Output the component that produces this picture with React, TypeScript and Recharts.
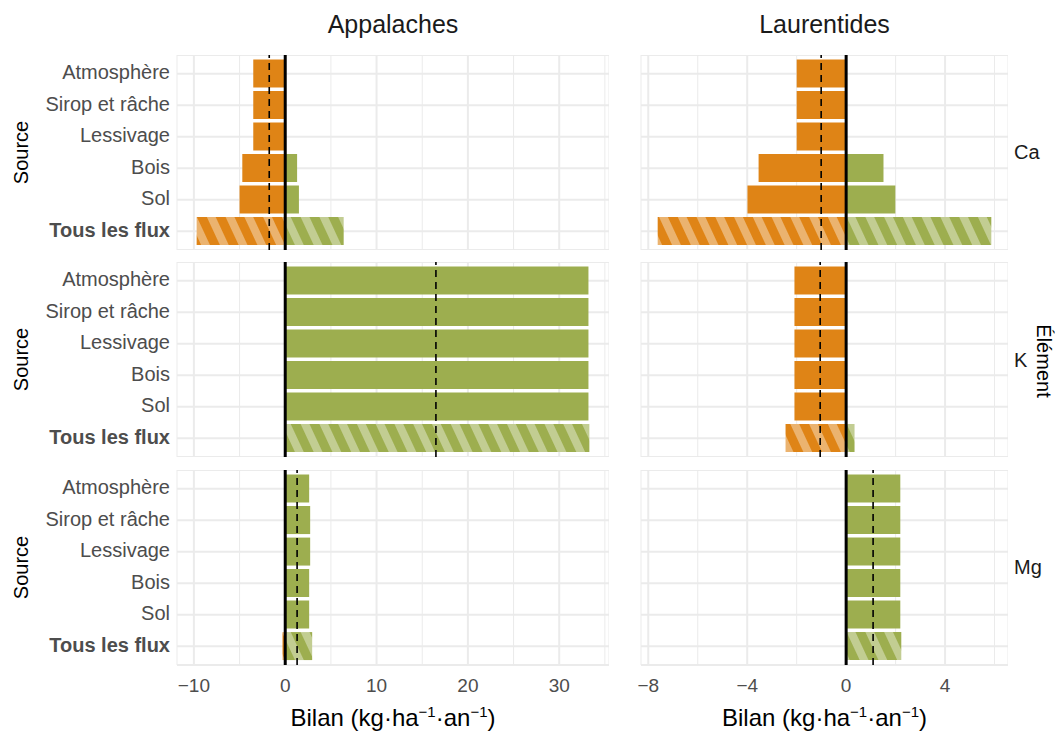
import React from 'react';
import { BarChart, Bar, XAxis, YAxis, CartesianGrid, ReferenceLine, Cell } from 'recharts';

const SOURCES = ['Atmosphère', 'Sirop et râche', 'Lessivage', 'Bois', 'Sol', 'Tous les flux'];
const REGIONS = ['Appalaches', 'Laurentides'];
const ELEMENTS = ['Ca', 'K', 'Mg'];

// Appalaches - pertes (neg) et gains (pos) par source
const APP_CA_NEG = [-3.5, -3.5, -3.5, -4.7, -5.0, -9.7];
const APP_CA_POS = [0, 0, 0, 1.3, 1.5, 6.4];
const APP_K_NEG = [0, 0, 0, 0, 0, 0];
const APP_K_POS = [33.2, 33.2, 33.2, 33.2, 33.2, 33.3];
const APP_MG_NEG = [0, 0, 0, 0, 0, -0.3];
const APP_MG_POS = [2.62, 2.73, 2.73, 2.62, 2.62, 2.95];
const APP_MEAN = [-1.75, 16.5, 1.3];

// Laurentides
const LAU_CA_NEG = [-2.0, -2.0, -2.0, -3.54, -3.99, -7.62];
const LAU_CA_POS = [0, 0, 0, 1.51, 1.99, 5.87];
const LAU_K_NEG = [-2.09, -2.09, -2.09, -2.09, -2.09, -2.45];
const LAU_K_POS = [0, 0, 0, 0, 0, 0.34];
const LAU_MG_NEG = [0, 0, 0, 0, 0, 0];
const LAU_MG_POS = [2.19, 2.19, 2.19, 2.19, 2.19, 2.23];
const LAU_MEAN = [-1.01, -1.05, 1.09];

const APP_MAJOR = [-10, 0, 10, 20, 30];
const APP_MINOR = [-5, 5, 15, 25, 35];
const LAU_MAJOR = [-8, -4, 0, 4];
const LAU_MINOR = [-6, -2, 2, 6];

const ORANGE = '#DF8416';
const GREEN = '#9DAE4F';
const GRID = '#EBEBEB';
const TICK = '#4D4D4D';

const ROW_TOPS = [54.5, 262, 469.5];
const PANEL_H = 195;
const X_AXIS_H = 70;

// ggplot-style 5% expansion
const expand = (vals: number[]): [number, number] => {
  const lo = Math.min(...vals);
  const hi = Math.max(...vals);
  const pad = (hi - lo) * 0.05;
  return [lo - pad, hi + pad];
};

const APP_DOMAIN = expand([...APP_CA_NEG, ...APP_CA_POS, ...APP_K_NEG, ...APP_K_POS, ...APP_MG_NEG, ...APP_MG_POS]);
const LAU_DOMAIN = expand([...LAU_CA_NEG, ...LAU_CA_POS, ...LAU_K_NEG, ...LAU_K_POS, ...LAU_MG_NEG, ...LAU_MG_POS]);

const fmtTick = (major: number[]) => (v: number) =>
  major.includes(v) ? (v < 0 ? `\u2212${Math.abs(v)}` : `${v}`) : '';

const SourceTick = (props: any) => {
  const { x, y, payload } = props;
  const bold = payload.value === 'Tous les flux';
  return (
    <text x={x} y={y} dy={5.5} textAnchor="end" fontSize={20} fill={TICK} fontWeight={bold ? 700 : 400}>
      {payload.value}
    </text>
  );
};

const SourceLabel = (props: any) => {
  const vb = props.viewBox || { x: 0, y: 0, height: PANEL_H };
  const cx = vb.x + 28;
  const cy = vb.y + vb.height / 2;
  return (
    <text x={cx} y={cy} transform={`rotate(-90 ${cx} ${cy})`} textAnchor="middle" fontSize={20} fill="#000">
      Source
    </text>
  );
};

const BilanLabel = (props: any) => {
  const { x, y, width, height } = props.viewBox;
  const cx = x + width / 2;
  const by = y + height - 9;
  return (
    <text x={cx} y={by} textAnchor="middle" fontSize={24} fill="#000">
      <tspan>Bilan (kg·ha</tspan>
      <tspan dy={-9} fontSize={15}>{'\u22121'}</tspan>
      <tspan dy={9}>·an</tspan>
      <tspan dy={-9} fontSize={15}>{'\u22121'}</tspan>
      <tspan dy={9}>)</tspan>
    </text>
  );
};

const hLine = (p: any) => (
  <line key={p.key} x1={p.x1} y1={p.y1} x2={p.x2} y2={p.y2} stroke={GRID} strokeWidth={2} />
);

interface PanelProps {
  neg: number[];
  pos: number[];
  mean: number;
  major: number[];
  minor: number[];
  domain: [number, number];
  showY: boolean;
  showX: boolean;
  width: number;
  leftPad: number;
}

function Panel({ neg, pos, mean, major, minor, domain, showY, showX, width, leftPad }: PanelProps) {
  const data = SOURCES.map((s, i) => ({ source: s, neg: neg[i], pos: pos[i] }));
  const ticks = [...major, ...minor].sort((a, b) => a - b);
  const last = SOURCES.length - 1;

  const vLine = (p: any) => {
    const isMajor = major.includes(ticks[p.index]);
    return (
      <line key={p.key} x1={p.x1} y1={p.y1} x2={p.x2} y2={p.y2} stroke={GRID} strokeWidth={isMajor ? 2 : 1} />
    );
  };

  return (
    <BarChart
      width={width}
      height={PANEL_H + (showX ? X_AXIS_H : 0)}
      data={data}
      layout="vertical"
      stackOffset="sign"
      barCategoryGap="5%"
      margin={{ top: 0, right: 0, bottom: 0, left: leftPad }}
    >
      <CartesianGrid vertical={vLine} horizontal={hLine} stroke={GRID} />
      <XAxis
        type="number"
        domain={domain}
        allowDataOverflow
        ticks={ticks}
        interval={0}
        tickFormatter={fmtTick(major)}
        hide={!showX}
        height={X_AXIS_H}
        axisLine={false}
        tickLine={false}
        tickSize={0}
        tickMargin={14}
        tick={{ fontSize: 19, fill: TICK }}
        label={<BilanLabel />}
      />
      <YAxis
        type="category"
        dataKey="source"
        width={177}
        hide={!showY}
        axisLine={false}
        tickLine={false}
        tickSize={0}
        tickMargin={7}
        interval={0}
        padding={{ top: 3, bottom: 3 }}
        tick={<SourceTick />}
        label={<SourceLabel />}
      />
      <Bar dataKey="neg" stackId="s" fill={ORANGE} isAnimationActive={false}>
        {data.map((_, i) => (
          <Cell key={i} fill={i === last ? 'url(#hatch-orange)' : ORANGE} />
        ))}
      </Bar>
      <Bar dataKey="pos" stackId="s" fill={GREEN} isAnimationActive={false}>
        {data.map((_, i) => (
          <Cell key={i} fill={i === last ? 'url(#hatch-green)' : GREEN} />
        ))}
      </Bar>
      <ReferenceLine x={0} stroke="#000" strokeWidth={3} />
      <ReferenceLine x={mean} stroke="#000" strokeWidth={1.6} strokeDasharray="7 5" />
    </BarChart>
  );
}

const APP_ROWS = [
  [APP_CA_NEG, APP_CA_POS],
  [APP_K_NEG, APP_K_POS],
  [APP_MG_NEG, APP_MG_POS],
];
const LAU_ROWS = [
  [LAU_CA_NEG, LAU_CA_POS],
  [LAU_K_NEG, LAU_K_POS],
  [LAU_MG_NEG, LAU_MG_POS],
];

export default function App() {
  return (
    <div
      style={{
        position: 'absolute',
        left: 0,
        top: 0,
        width: 1055,
        height: 734,
        background: '#fff',
        fontFamily: '"Liberation Sans", Arial, Helvetica, sans-serif',
      }}
    >
      <svg width={0} height={0} style={{ position: 'absolute' }}>
        <defs>
          <pattern id="hatch-orange" patternUnits="userSpaceOnUse" width={17} height={17} patternTransform="rotate(-25)">
            <rect width={17} height={17} fill={ORANGE} />
            <rect width={8} height={17} fill="#fff" fillOpacity={0.38} />
          </pattern>
          <pattern id="hatch-green" patternUnits="userSpaceOnUse" width={17} height={17} patternTransform="rotate(-25)">
            <rect width={17} height={17} fill={GREEN} />
            <rect width={8} height={17} fill="#fff" fillOpacity={0.38} />
          </pattern>
        </defs>
      </svg>

      {ELEMENTS.map((el, r) => (
        <React.Fragment key={el}>
          <div style={{ position: 'absolute', left: 0, top: ROW_TOPS[r] }}>
            <Panel
              neg={APP_ROWS[r][0]}
              pos={APP_ROWS[r][1]}
              mean={APP_MEAN[r]}
              major={APP_MAJOR}
              minor={APP_MINOR}
              domain={APP_DOMAIN}
              showY
              showX={r === ELEMENTS.length - 1}
              width={609}
              leftPad={0}
            />
          </div>
          <div style={{ position: 'absolute', left: 621, top: ROW_TOPS[r] }}>
            <Panel
              neg={LAU_ROWS[r][0]}
              pos={LAU_ROWS[r][1]}
              mean={LAU_MEAN[r]}
              major={LAU_MAJOR}
              minor={LAU_MINOR}
              domain={LAU_DOMAIN}
              showY={false}
              showX={r === ELEMENTS.length - 1}
              width={387}
              leftPad={20}
            />
          </div>
        </React.Fragment>
      ))}

      <svg width={1055} height={734} style={{ position: 'absolute', left: 0, top: 0, pointerEvents: 'none' }}>
        <text x={393} y={32.5} textAnchor="middle" fontSize={25} fill="#1A1A1A">{REGIONS[0]}</text>
        <text x={824.5} y={32.5} textAnchor="middle" fontSize={25} fill="#1A1A1A">{REGIONS[1]}</text>
        {ELEMENTS.map((el, r) => (
          <text key={el} x={1014} y={ROW_TOPS[r] + PANEL_H / 2 + 7} fontSize={20} fill="#1A1A1A">
            {el}
          </text>
        ))}
        <text x={1037} y={361} transform="rotate(90 1037 361)" textAnchor="middle" fontSize={20} fill="#000">
          Élément
        </text>
      </svg>
    </div>
  );
}
